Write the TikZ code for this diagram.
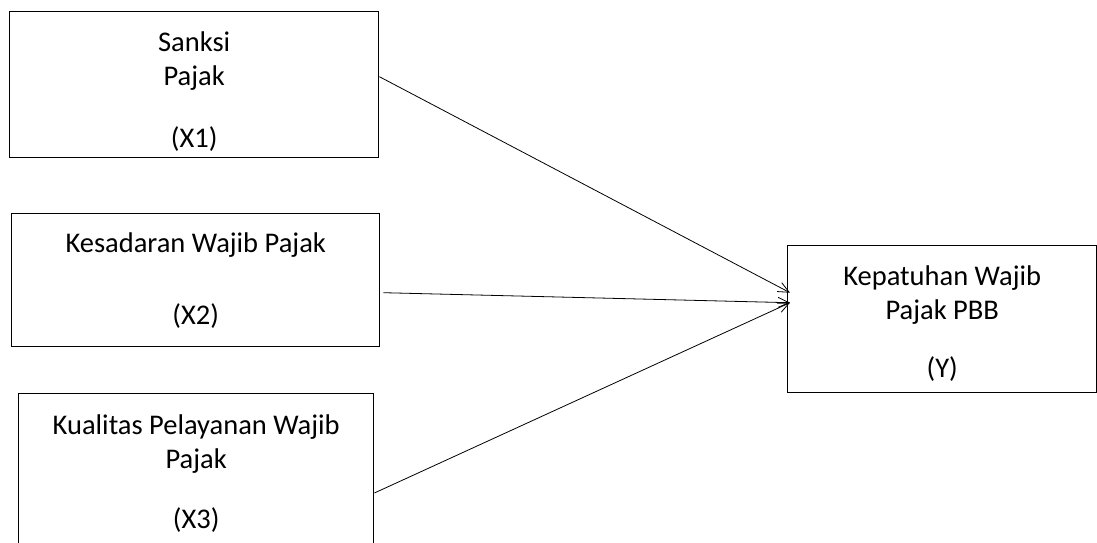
\documentclass[tikz,border=0pt]{standalone}
\usepackage{fontspec}
\setmainfont{Carlito}
\usetikzlibrary{arrows.meta}

\begin{document}
\begin{tikzpicture}[x=1pt, y=-1pt, >={Straight Barb[length=11pt,width=10pt]},
    kotak/.style={draw, line width=1.4pt, inner sep=0pt, anchor=north west},
    teks/.style={align=center, anchor=base, font=\fontsize{28.5}{34}\selectfont}]
\useasboundingbox (0,0) rectangle (1097,543);

%% kotak variabel bebas
\node [kotak, minimum width=369pt, minimum height=146pt] (x1) at (9,11) {};
\node [kotak, minimum width=368pt, minimum height=133pt] (x2) at (11,213) {};
\node [kotak, minimum width=355pt, minimum height=180pt] (x3) at (18,393) {};

%% kotak variabel terikat
\node [kotak, minimum width=309pt, minimum height=147pt] (y) at (787,245) {};

%% isi kotak (base = baris terakhir)
\node [teks] (tx1) at (x1.center |- 0,147) {Sanksi\\Pajak\\[28pt](X1)};
\node [teks] (tx2) at (x2.center |- 0,324) {Kesadaran Wajib Pajak\\[38pt](X2)};
\node [teks] (tx3) at (x3.center |- 0,528) {Kualitas Pelayanan Wajib\\Pajak\\[26pt](X3)};
\node [teks] (ty) at (y.center |- 0,377) {Kepatuhan Wajib\\Pajak PBB\\[24pt](Y)};

%% panah
\draw [->, line width=0.8pt] ([yshift=8pt]x1.east) -- ([xshift=3pt,yshift=26.5pt]y.west);
\draw [->, line width=0.8pt] ([xshift=3pt,yshift=-12.5pt]x2.east) -- ([xshift=3pt,yshift=16.5pt]y.west);
\draw [->, line width=0.8pt] ([yshift=-100pt]x3.north east) -- ([xshift=3pt,yshift=16.5pt]y.west);

\end{tikzpicture}
\end{document}
